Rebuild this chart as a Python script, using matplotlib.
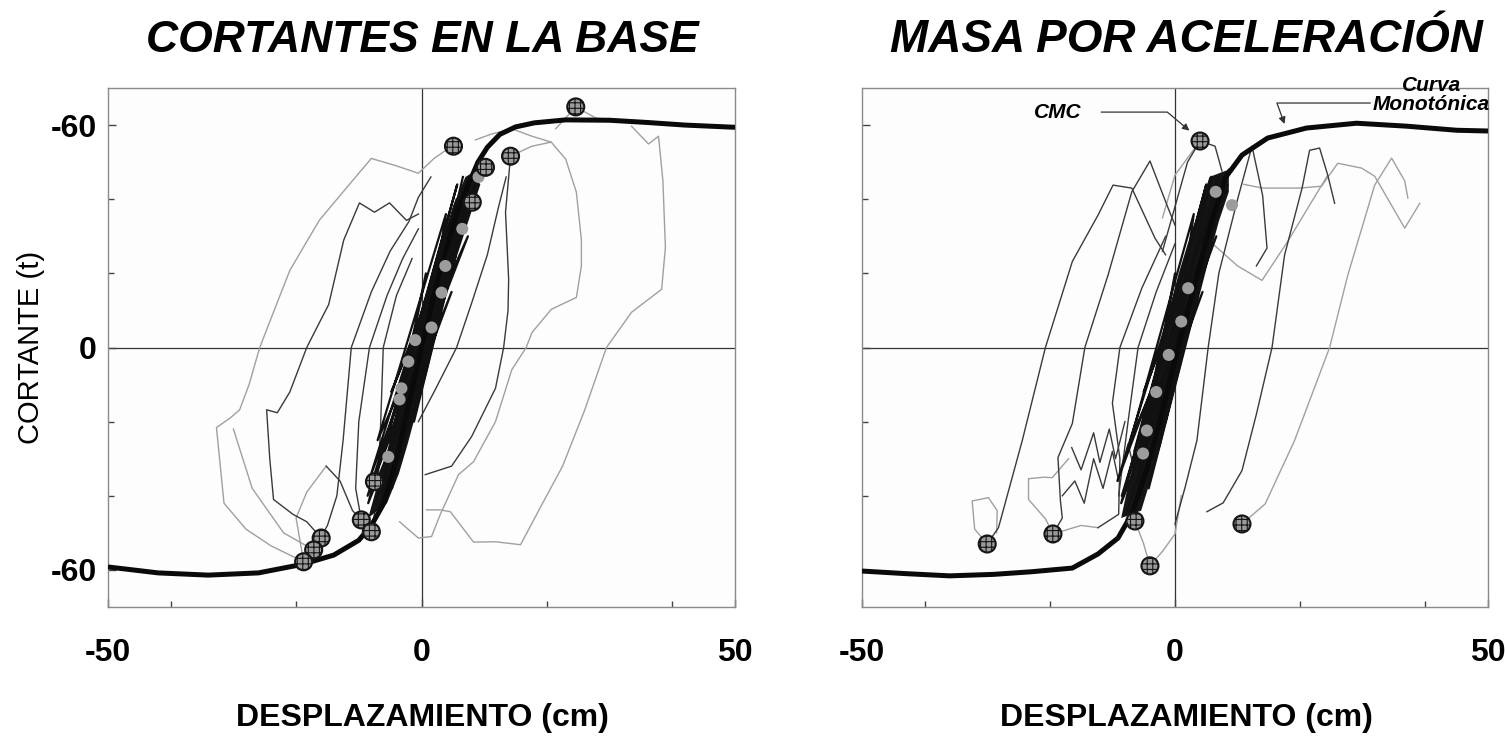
import matplotlib
matplotlib.use("Agg")
import matplotlib.pyplot as plt

plt.rcParams["font.family"] = ["Liberation Sans", "DejaVu Sans"]
plt.rcParams["hatch.linewidth"] = 0.8

# ---- data (x: cm, y: t) ----
x_ticks = [-50, 0, 50]
x_tick_labels = ["-50", "0", "50"]
y_ticks = [-60, 0, 60]
y_tick_labels = ["-60", "0", "-60"]
minor_x = [-40, -20, 20, 40]
minor_y = [-40, -20, 20, 40]

# monotonic (pushover) curves
mono_l_x = [-50, -42, -34, -26, -19, -14, -10, -8, -6, -4, -2, 0, 2, 4, 6, 8, 9, 10.5,
            12.5, 15, 18, 23, 30, 36, 42, 50]
mono_l_y = [-59.2, -60.8, -61.4, -60.8, -58.5, -56, -52, -48, -42, -30, -15, 0, 14, 27,
            38, 46, 50, 54, 57.5, 59.5, 60.6, 61.4, 61.3, 60.7, 60.0, 59.4]
mono_r_x = [-50, -43, -36, -29, -23, -16.4, -12.3, -9.1, -6.9, -4.5, -2, 0.5, 3, 5.5, 8,
            10.7, 14.8, 21, 29, 37, 45, 50]
mono_r_y = [-60.3, -61.0, -61.6, -61.2, -60.5, -59.5, -55.7, -51.4, -44.9, -33, -17, 0,
            16, 32, 45.7, 51.9, 56.5, 59.2, 60.5, 59.7, 58.6, 58.4]

# left panel: base shear history loops
left_dark = [
    [(-16, -51.4), (-18.3, -47), (-20.5, -45), (-23.6, -41), (-24.2, -30), (-24.7, -16.8),
     (-23, -17.6), (-21, -12), (-18.3, 0), (-16.5, 6), (-14.8, 11.6), (-12.4, 29),
     (-9.9, 39), (-7.5, 36.5), (-5.1, 39), (-2.4, 34.3), (-0.5, 36)],
    [(-17.2, -54.6), (-15, -48), (-13.5, -40), (-12.5, -25), (-11.2, 0), (-8, 15),
     (-5, 26), (-2, 34), (-0.5, 40.5), (1.5, 46)],
    [(-9.6, -46.5), (-10.5, -38), (-10, -20), (-8.3, 0), (-5.5, 14), (-3, 24), (-0.5, 32)],
    [(-8, -49.7), (-7, -40), (-6.5, -20), (-6.1, 0), (-4, 14), (-1.5, 24)],
    [(0.6, -34.3), (4.8, -32), (8, -24), (11.8, -11), (13.1, 0), (13.8, 10), (13.9, 18.4),
     (13.4, 36.5), (14.2, 51.6)],
    [(-0.5, -20), (2, -12), (5.6, 0), (8, 12), (10.5, 25), (12.3, 38), (13.5, 46)],
    [(-15.2, -32), (-13, -36), (-11, -44), (-9.6, -46.5)],
]
left_light = [
    [(-18.8, -57.8), (-24, -53.5), (-28, -49), (-31.5, -42), (-32.7, -21.6), (-30.5, -19),
     (-29, -16.8), (-27.5, -10), (-25.8, 0), (-23.5, 10), (-21, 20.8), (-18.5, 28),
     (-16.3, 34.3), (-12, 43), (-8, 51), (-4, 49), (-0.5, 47), (2, 51), (4.8, 54.3)],
    [(-3.5, -47), (-0.5, -51.4), (1.6, -51), (3, -45), (5.9, -34.3), (8.3, -30.8),
     (11.8, -20), (14.4, -6), (16.7, 0), (17.6, 4), (20.7, 10.3), (24.7, 13.5), (25.5, 22),
     (25.5, 29), (24.7, 41.9), (23, 50.8), (20.7, 55.4), (17.6, 54.3), (14.2, 51.6)],
    [(0.8, -43.8), (3, -43.8), (4.6, -44.3), (8.3, -52.5), (11.8, -52.4), (15.8, -53.2),
     (19, -43), (22.5, -32), (26, -17), (29.5, 0), (33.5, 9.5), (38.3, 15.7), (38.9, 27),
     (38.5, 45), (37.8, 57), (36.2, 54.9), (33.5, 59.7)],
    [(-30, -22), (-27, -38), (-22, -50), (-17.2, -54.6)],
    [(8.6, 56), (11.2, 57.6), (14.4, 59), (17.6, 57), (20.7, 55.4)],
    [(21.4, 59), (24.6, 64.9), (27.7, 62), (30, 61.2)],
    [(-15.2, -32), (-18.3, -39), (-20, -46), (-18.8, -57.8)],
]
left_core = [(-7.4, -42), (9.2, 44), (-8.2, -35), (5.6, 40), (-3.4, -30), (7.6, 46),
             (-8.6, -40), (7.4, 30), (-7, -25), (3.9, 36), (-1.2, -20), (7.9, 42),
             (-6.7, -44), (0.7, 20), (-5.7, -32), (9.4, 48), (-4.8, -12), (6.7, 38),
             (-4.7, -38), (5.5, 25), (-6, -28), (5.7, 44), (-8.5, -42), (4.8, 15),
             (-1.8, -15), (6.6, 46)]
left_band = [(-8.5, -46), (-7.2, -38), (-5.8, -30), (-4.2, -20), (-2.8, -10), (-1.6, 0),
             (0.2, 10), (1.8, 20), (3.6, 30), (5, 38), (7, 46), (9, 48), (9.2, 44),
             (7.4, 36), (5.4, 24), (3.8, 14), (2.4, 4), (1, -6), (-0.6, -16), (-2.2, -26),
             (-3.6, -34), (-5.5, -42)]
left_marks = [(5.1, 54.3), (24.6, 64.9), (14.2, 51.6), (10.2, 48.6), (8.1, 39.2),
              (-7.5, -36.2), (-9.6, -46.5), (-8, -49.7), (-16, -51.4), (-17.2, -54.6),
              (-18.8, -57.8)]
left_core_marks = [(-5.3, -29.5), (-3.5, -14), (-3.2, -11), (-2.1, -3.8), (3.8, 22),
                   (3.2, 14.8), (1.6, 5.4), (9.1, 46), (6.5, 32), (-1, 2)]

# right panel: mass x acceleration history loops
right_dark = [
    [(-30, -53), (-28.2, -48.6), (-27.6, -44.9), (-24.4, -25.1), (-20.7, 0), (-16.4, 23.2),
     (-12.3, 35.7), (-9.9, 43.8), (-6.9, 43), (-3.2, 29.5), (-1.5, 25)],
    [(-19.5, -50.3), (-18, -46), (-18.3, -41.4), (-18.7, -29.7), (-16.4, -20.5),
     (-14.4, 0), (-10.7, 19.5), (-6.9, 42), (-4, 50.3), (-1.1, 37.6), (0, 33)],
    [(-12.3, -48.6), (-9, -45), (-8.8, -30), (-10, -15), (-8.8, 0), (-5.3, 16), (-1.5, 30)],
    [(-9, -40), (-7.5, -20), (-5.9, 0), (-3, 15), (0, 28)],
    [(-2, 26), (2, 50), (4, 55.7), (6.4, 54.3), (7.5, 47.6)],
    [(5.1, -44.3), (7.7, -41.9), (10.7, -33.2), (13, -18), (15.5, 0), (17.5, 24.9),
     (20.3, 43), (21.5, 53.2), (23.1, 53.8), (24.4, 46.5), (25.5, 38.9)],
    [(0, -47.6), (1.6, -37.8), (3.5, -25.1), (5.3, 0), (7, 20), (10, 40), (12.3, 54.3),
     (14, 41), (14.7, 26.8), (13, 22)],
    [(-18, -40), (-16, -36), (-14.5, -42), (-13, -30), (-11.5, -38), (-10, -28), (-9, -36),
     (-7.5, -26), (-6.5, -33), (-5, -22)],
    [(-16.5, -27), (-15, -33), (-13, -23), (-12, -31), (-10.5, -22), (-9.5, -30), (-8, -20)],
]
right_light = [
    [(-30, -53), (-32, -49), (-32.4, -41.4), (-29.8, -40.5), (-28.4, -44), (-28.5, -50)],
    [(-19.5, -50.3), (-20.7, -46.2), (-23.4, -41), (-23.4, -35.4), (-21, -35),
     (-19.6, -35.1), (-17, -30)],
    [(10.7, -47.6), (14.4, -42.2), (19.1, -25.1), (24.7, 0), (27.6, 19.5), (31.9, 43.8),
     (34.6, 51.1), (36.7, 44.9), (37.2, 40.3)],
    [(11, 44), (14, 43), (19.9, 43), (23.4, 43.5), (26, 49.7), (29.8, 48.4), (31.9, 46.2),
     (36.7, 32.2), (39.1, 38.9)],
    [(6, 28), (10, 22), (13.9, 18.1), (18, 28.6), (24.4, 46.5)],
    [(-6.4, -46.8), (-5, -53), (-4, -58.9), (-2, -55), (0, -50.3), (1, -40)],
    [(-12.3, -48.6), (-15, -48), (-19.5, -50.3)],
    [(4, 55.7), (0, 46.5), (-2, 35)],
]
right_core = [(-7.6, -44), (8.4, 44), (-9.2, -36), (4.8, 40), (-3.4, -30), (7, 46),
              (-8.5, -40), (6.6, 30), (-7.1, -25), (3, 36), (-1.5, -20), (7.4, 42),
              (-6.4, -44), (0, 20), (-5.7, -32), (8.6, 48), (-5, -12), (6.2, 38),
              (-4.2, -38), (5.4, 25), (-6.5, -28), (5, 44), (-8.6, -42), (4.4, 15),
              (-2, -15), (5.8, 46)]
right_band = [(-8.6, -46), (-7.6, -38), (-6.4, -30), (-5, -20), (-3.6, -10), (-2.6, 0),
              (-1, 10), (0.6, 20), (2.4, 30), (4, 38), (5.5, 46), (8.6, 48), (8.6, 42),
              (7, 34), (5.4, 24), (3.6, 14), (2.2, 4), (0.8, -6), (-0.8, -16),
              (-2.2, -26), (-3.6, -34), (-5.4, -44)]
right_marks = [(4, 55.7), (-30, -53), (-19.5, -50.3), (-6.4, -46.8), (-4, -58.9),
               (10.7, -47.6)]
right_core_marks = [(-4.5, -22.4), (-5.1, -28.6), (9.1, 38.4), (2.1, 16), (1, 7),
                    (-1, -2), (-3, -12), (6.5, 42)]


def unzip(points):
    return [p[0] for p in points], [p[1] for p in points]


def style_axes(ax, show_ylabels):
    ax.set_xlim(-50, 50)
    ax.set_ylim(-70, 70)
    ax.set_facecolor("#fdfdfd")
    for sp in ax.spines.values():
        sp.set_color("#8a8a8a")
        sp.set_linewidth(1.0)
    ax.axhline(0, color="#333333", lw=0.9, zorder=1)
    ax.axvline(0, color="#333333", lw=0.9, zorder=1)
    ax.set_xticks(x_ticks)
    ax.set_xticklabels(x_tick_labels, fontsize=23, fontweight="bold")
    ax.set_yticks(y_ticks)
    ax.set_yticklabels(y_tick_labels if show_ylabels else [], fontsize=23,
                       fontweight="bold")
    ax.set_xticks(minor_x, minor=True)
    ax.set_yticks(minor_y, minor=True)
    ax.tick_params(which="major", direction="in", length=6, width=1, color="#444",
                   top=False, right=False)
    ax.tick_params(axis="x", which="major", pad=22)
    ax.tick_params(axis="y", which="major", pad=8)
    ax.tick_params(which="minor", direction="in", length=4, width=1, color="#444")


def draw_panel(ax, mono_x, mono_y, dark, light, core, band, marks, core_marks):
    for path in light:
        xs, ys = unzip(path)
        ax.plot(xs, ys, color="#a0a0a0", lw=1.0, zorder=2)
    for path in dark:
        xs, ys = unzip(path)
        ax.plot(xs, ys, color="#3a3a3a", lw=1.0, zorder=3)
    bx, by = unzip(band)
    ax.fill(bx, by, color="#151515", lw=0, zorder=3)
    cx, cy = unzip(core)
    ax.plot(cx, cy, color="#111111", lw=1.6, zorder=3)
    ax.plot(mono_x, mono_y, color="#0a0a0a", lw=3.6, zorder=4, solid_capstyle="butt")
    gx, gy = unzip(core_marks)
    ax.scatter(gx, gy, s=75, color="#9c9c9c", edgecolors="none", zorder=5)
    mx, my = unzip(marks)
    ax.scatter(mx, my, s=150, facecolor="#9a9a9a", edgecolors="#151515", linewidths=1.5,
               hatch="+++", zorder=6)


fig = plt.figure(figsize=(15.05, 7.37), dpi=100)
ax_l = fig.add_axes([108 / 1505, 1 - 607 / 737, 627 / 1505, 519 / 737])
ax_r = fig.add_axes([862 / 1505, 1 - 607 / 737, 626 / 1505, 519 / 737])

style_axes(ax_l, True)
style_axes(ax_r, False)
draw_panel(ax_l, mono_l_x, mono_l_y, left_dark, left_light, left_core, left_band,
           left_marks, left_core_marks)
draw_panel(ax_r, mono_r_x, mono_r_y, right_dark, right_light, right_core, right_band,
           right_marks, right_core_marks)

fig.text(422 / 1505, 1 - 40 / 737, "CORTANTES EN LA BASE", ha="center", va="center",
         fontsize=32, fontweight="bold", fontstyle="italic")
fig.text(1186 / 1505, 1 - 40 / 737, "MASA POR ACELERACIÓN", ha="center", va="center",
         fontsize=33, fontweight="bold", fontstyle="italic")
fig.text(422 / 1505, 1 - 718 / 737, "DESPLAZAMIENTO (cm)", ha="center", va="center",
         fontsize=23, fontweight="bold")
fig.text(1186 / 1505, 1 - 718 / 737, "DESPLAZAMIENTO (cm)", ha="center", va="center",
         fontsize=23, fontweight="bold")
fig.text(31 / 1505, 1 - 347 / 737, "CORTANTE (t)", ha="center", va="center",
         rotation=90, fontsize=21)

# annotations on the right panel
ax_r.annotate("CMC", xy=(2.3, 58.5), xytext=(-18.7, 63.5), ha="center", va="center",
              fontsize=15, fontweight="bold", fontstyle="italic",
              arrowprops=dict(arrowstyle="-|>", color="#333", lw=0.9,
                              connectionstyle="angle,angleA=0,angleB=-40,rad=0",
                              shrinkA=12, shrinkB=0, mutation_scale=10))
ax_r.annotate("Curva\nMonotónica", xy=(17.5, 60.3), xytext=(41, 68), ha="center",
              va="center", fontsize=15, fontweight="bold", fontstyle="italic",
              linespacing=1.0, annotation_clip=False,
              arrowprops=dict(arrowstyle="-|>", color="#333", lw=0.9,
                              connectionstyle="angle,angleA=0,angleB=-70,rad=0",
                              shrinkA=0, shrinkB=0, mutation_scale=10,
                              relpos=(0.0, 0.3)))

fig.savefig("out.png", dpi=100, facecolor="white")
